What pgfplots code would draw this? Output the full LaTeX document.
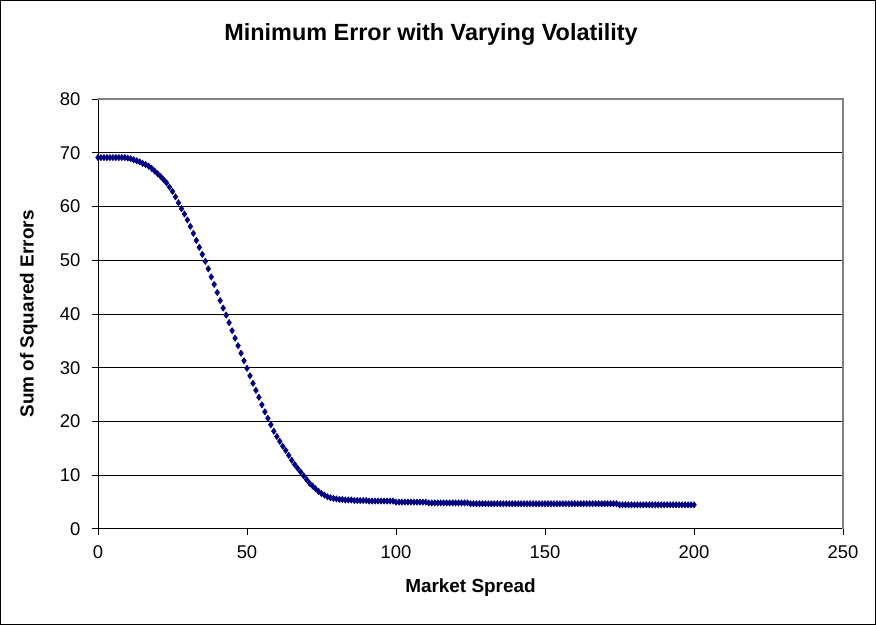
\documentclass[border=0pt]{standalone}
\usepackage{pgfplots}
\pgfplotsset{compat=1.18}
\usepackage{pgfplotstable}
\usepackage{fontspec}
\setmainfont{Liberation Sans}
\definecolor{navy}{RGB}{0,0,128}
\definecolor{bordergray}{RGB}{128,128,128}

\pgfplotstableread{
x y
0 69.1
1 69.1
2 69.1
3 69.1
4 69.1
5 69.1
6 69.1
7 69.1
8 69.1
9 69.1
10 69.0
11 68.9
12 68.7
13 68.5
14 68.3
15 68.0
16 67.8
17 67.5
18 67.1
19 66.6
20 66.1
21 65.6
22 65.0
23 64.4
24 63.6
25 62.8
26 61.8
27 60.7
28 59.6
29 58.6
30 57.5
31 56.3
32 55.0
33 53.7
34 52.4
35 51.1
36 49.8
37 48.4
38 46.9
39 45.5
40 44.0
41 42.5
42 41.1
43 39.8
44 38.4
45 36.9
46 35.5
47 34.1
48 32.7
49 31.3
50 29.9
51 28.5
52 27.1
53 25.8
54 24.5
55 23.1
56 21.8
57 20.6
58 19.4
59 18.2
60 17.2
61 16.3
62 15.4
63 14.6
64 13.7
65 12.8
66 12.0
67 11.3
68 10.6
69 9.9
70 9.2
71 8.5
72 8.0
73 7.5
74 7.0
75 6.6
76 6.3
77 6.0
78 5.8
79 5.7
80 5.6
81 5.5
82 5.5
83 5.4
84 5.4
85 5.4
86 5.3
87 5.3
88 5.3
89 5.3
90 5.3
91 5.2
92 5.2
93 5.2
94 5.2
95 5.2
96 5.2
97 5.2
98 5.2
99 5.2
100 5.0
101 5.0
102 5.0
103 5.0
104 5.0
105 5.0
106 5.0
107 5.0
108 5.0
109 5.0
110 5.0
111 4.85
112 4.85
113 4.85
114 4.85
115 4.85
116 4.85
117 4.85
118 4.85
119 4.85
120 4.85
121 4.85
122 4.85
123 4.85
124 4.85
125 4.7
126 4.7
127 4.7
128 4.7
129 4.7
130 4.7
131 4.7
132 4.7
133 4.7
134 4.7
135 4.7
136 4.7
137 4.7
138 4.7
139 4.7
140 4.7
141 4.7
142 4.7
143 4.7
144 4.7
145 4.7
146 4.7
147 4.7
148 4.7
149 4.7
150 4.7
151 4.7
152 4.7
153 4.7
154 4.7
155 4.7
156 4.7
157 4.7
158 4.7
159 4.7
160 4.7
161 4.7
162 4.7
163 4.7
164 4.7
165 4.7
166 4.7
167 4.7
168 4.7
169 4.7
170 4.7
171 4.7
172 4.7
173 4.7
174 4.7
175 4.5
176 4.5
177 4.5
178 4.5
179 4.5
180 4.5
181 4.5
182 4.5
183 4.5
184 4.5
185 4.5
186 4.5
187 4.5
188 4.5
189 4.5
190 4.5
191 4.5
192 4.5
193 4.5
194 4.5
195 4.5
196 4.5
197 4.5
198 4.5
199 4.5
200 4.5
}\sse

\begin{document}
\begin{tikzpicture}
\useasboundingbox (0bp,0bp) rectangle (876bp,625bp);
\draw[black, line width=1.2bp] (0.6bp,0.6bp) rectangle (875.4bp,624.4bp);
\begin{axis}[
  at={(98bp,96bp)}, anchor=south west,
  scale only axis, width=745bp, height=430bp,
  xmin=0, xmax=250, ymin=0, ymax=80,
  xtick={0,50,...,250}, ytick={0,10,...,80},
  axis x line*=bottom, axis y line*=left,
  axis line style={-, black, line width=1bp},
  tick align=outside, major tick length=6bp,
  tick style={black, line width=1bp},
  ymajorgrids, grid style={black, line width=1bp},
  /pgf/number format/assume math mode=true,
  ticklabel style={font=\fontsize{18.5}{20}\selectfont},
  xticklabel style={yshift=-7bp},
  yticklabel style={xshift=-8bp},
  xlabel={Market Spread}, ylabel={Sum of Squared Errors},
  label style={font=\bfseries\fontsize{19}{21}\selectfont},
  xlabel style={at={(axis description cs:0.5,-0.137)}, anchor=center},
  ylabel style={at={(axis description cs:-0.093,0.5)}, anchor=center},
  title={Minimum Error with Varying Volatility},
  title style={at={(axis description cs:0.447,1.137)}, anchor=center,
    font=\bfseries\fontsize{23.5}{26}\selectfont},
  clip=false,
]
\addplot[only marks, mark=diamond*, mark size=3.1bp, color=navy,
  mark options={draw=navy, fill=navy, line width=0.6bp}] table[x=x,y=y] {\sse};
\draw[bordergray, line width=1.2bp] (rel axis cs:0,1) -- (rel axis cs:1,1) -- (rel axis cs:1,0);
\end{axis}
\end{tikzpicture}
\end{document}
